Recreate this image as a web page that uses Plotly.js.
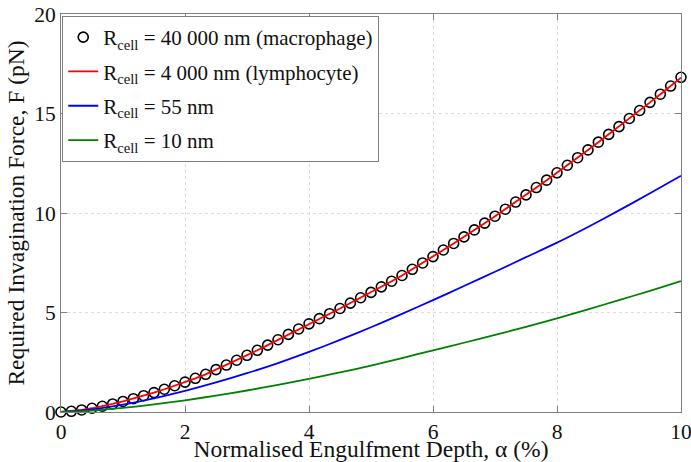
<!DOCTYPE html>
<html>
<head>
<meta charset="utf-8">
<script src="https://cdn.plot.ly/plotly-3.0.1.min.js"></script>
<style>html,body{margin:0;padding:0;background:#fff;}#chart{width:691px;height:462px;}</style>
</head>
<body>
<div id="chart"></div>
<script>
// Normalised engulfment depth alpha (%) – sample points (step 1/6)
const alphaFine = [0, 0.167, 0.333, 0.5, 0.667, 0.833, 1, 1.167, 1.333, 1.5, 1.667, 1.833,
  2, 2.167, 2.333, 2.5, 2.667, 2.833, 3, 3.167, 3.333, 3.5, 3.667, 3.833,
  4, 4.167, 4.333, 4.5, 4.667, 4.833, 5, 5.167, 5.333, 5.5, 5.667, 5.833,
  6, 6.167, 6.333, 6.5, 6.667, 6.833, 7, 7.167, 7.333, 7.5, 7.667, 7.833,
  8, 8.167, 8.333, 8.5, 8.667, 8.833, 9, 9.167, 9.333, 9.5, 9.667, 9.833, 10];

// R_cell = 40 000 nm (macrophage), open circles
const forceMacrophage = [0, 0.036, 0.102, 0.188, 0.289, 0.404, 0.531, 0.669, 0.818, 0.976, 1.143, 1.319,
  1.503, 1.694, 1.894, 2.13, 2.36, 2.60, 2.85, 3.10, 3.36, 3.63, 3.90, 4.17,
  4.43, 4.69, 4.94, 5.20, 5.47, 5.74, 6.01, 6.29, 6.57, 6.86, 7.17, 7.49,
  7.81, 8.14, 8.47, 8.80, 9.15, 9.49, 9.84, 10.19, 10.55, 10.91, 11.28, 11.65,
  12.02, 12.40, 12.78, 13.17, 13.56, 13.95, 14.34, 14.75, 15.15, 15.56, 15.97, 16.38, 16.82];

// R_cell = 4 000 nm (lymphocyte), red line
const forceLymphocyte = [0, 0.036, 0.102, 0.188, 0.289, 0.404, 0.531, 0.669, 0.818, 0.976, 1.143, 1.319,
  1.503, 1.694, 1.894, 2.13, 2.36, 2.60, 2.85, 3.10, 3.36, 3.63, 3.90, 4.17,
  4.43, 4.69, 4.94, 5.20, 5.47, 5.74, 6.01, 6.29, 6.57, 6.86, 7.17, 7.49,
  7.81, 8.14, 8.47, 8.80, 9.15, 9.49, 9.84, 10.19, 10.55, 10.91, 11.28, 11.65,
  12.02, 12.40, 12.78, 13.17, 13.56, 13.95, 14.34, 14.75, 15.15, 15.56, 15.97, 16.38, 16.80];

// Coarser sampling for the two smaller cells (step 0.5)
const alphaCoarse = [0, 0.5, 1, 1.5, 2, 2.5, 3, 3.5, 4, 4.5, 5, 5.5, 6, 6.5, 7, 7.5, 8, 8.5, 9, 9.5, 10];
// R_cell = 55 nm, blue line
const force55 = [0, 0.133, 0.375, 0.690, 1.062, 1.484, 1.950, 2.458, 3.02, 3.62, 4.26, 4.93,
  5.62, 6.33, 7.05, 7.78, 8.51, 9.30, 10.13, 10.99, 11.87];
// R_cell = 10 nm, green line
const force10 = [0, 0.074, 0.208, 0.382, 0.589, 0.822, 1.081, 1.362, 1.665, 1.986, 2.33, 2.71,
  3.10, 3.48, 3.87, 4.28, 4.71, 5.16, 5.62, 6.09, 6.58];

const seriesNames = [
  'R<sub>cell</sub> = 40 000 nm (macrophage)',
  'R<sub>cell</sub> = 4 000 nm (lymphocyte)',
  'R<sub>cell</sub> = 55 nm',
  'R<sub>cell</sub> = 10 nm'
];
const xTicks = [0, 2, 4, 6, 8, 10];
const yTicks = [0, 5, 10, 15, 20];

const serif = 'Liberation Serif, Times New Roman, serif';

const traces = [
  {x: alphaFine, y: forceMacrophage, name: seriesNames[0], legendgroup: 'a', mode: 'markers', type: 'scatter',
   cliponaxis: false,
   marker: {symbol: 'circle-open', size: 10, color: '#000', line: {width: 1.6, color: '#000'}}},
  {x: alphaFine, y: forceLymphocyte, name: seriesNames[1], legendgroup: 'b', mode: 'lines', type: 'scatter',
   line: {color: '#ff0000', width: 1.8}},
  {x: alphaCoarse, y: force55, name: seriesNames[2], legendgroup: 'c', mode: 'lines', type: 'scatter',
   line: {color: '#0000ff', width: 1.8, shape: 'spline', smoothing: 0.8}},
  {x: alphaCoarse, y: force10, name: seriesNames[3], legendgroup: 'd', mode: 'lines', type: 'scatter',
   line: {color: '#008000', width: 1.8, shape: 'spline', smoothing: 0.8}}
];

const axisCommon = {
  showline: true, linecolor: '#808080', linewidth: 1, mirror: 'ticks',
  ticks: 'inside', ticklen: 6, tickcolor: '#808080', tickwidth: 1,
  showgrid: true, gridcolor: '#dcdcdc', griddash: 'dot', gridwidth: 1,
  zeroline: false,
  tickfont: {family: serif, size: 21.5, color: '#111'}
};

const layout = {
  width: 691, height: 462,
  margin: {l: 61, r: 10, t: 14, b: 50},
  paper_bgcolor: '#fff', plot_bgcolor: '#fff',
  showlegend: true,
  xaxis: Object.assign({}, axisCommon, {
    range: [0, 10], tickvals: xTicks, ticktext: xTicks.map(String),
    ticklabeloverflow: 'allow',
    title: {text: 'Normalised Engulfment Depth, α (%)', font: {family: serif, size: 23.5, color: '#111'}, standoff: 0}
  }),
  yaxis: Object.assign({}, axisCommon, {
    range: [0, 20], tickvals: yTicks, ticktext: yTicks.map(String),
    title: {text: 'Required Invagination Force, F (pN)', font: {family: serif, size: 23.5, color: '#111'}, standoff: 2}
  }),
  legend: {
    x: 0.002, y: 0.995, xanchor: 'left', yanchor: 'top',
    bgcolor: '#fff', bordercolor: '#808080', borderwidth: 1,
    font: {family: serif, size: 21, color: '#111'},
    itemwidth: 30, tracegroupgap: 4
  }
};

Plotly.newPlot('chart', traces, layout, {displayModeBar: false, staticPlot: true});
</script>
</body>
</html>
